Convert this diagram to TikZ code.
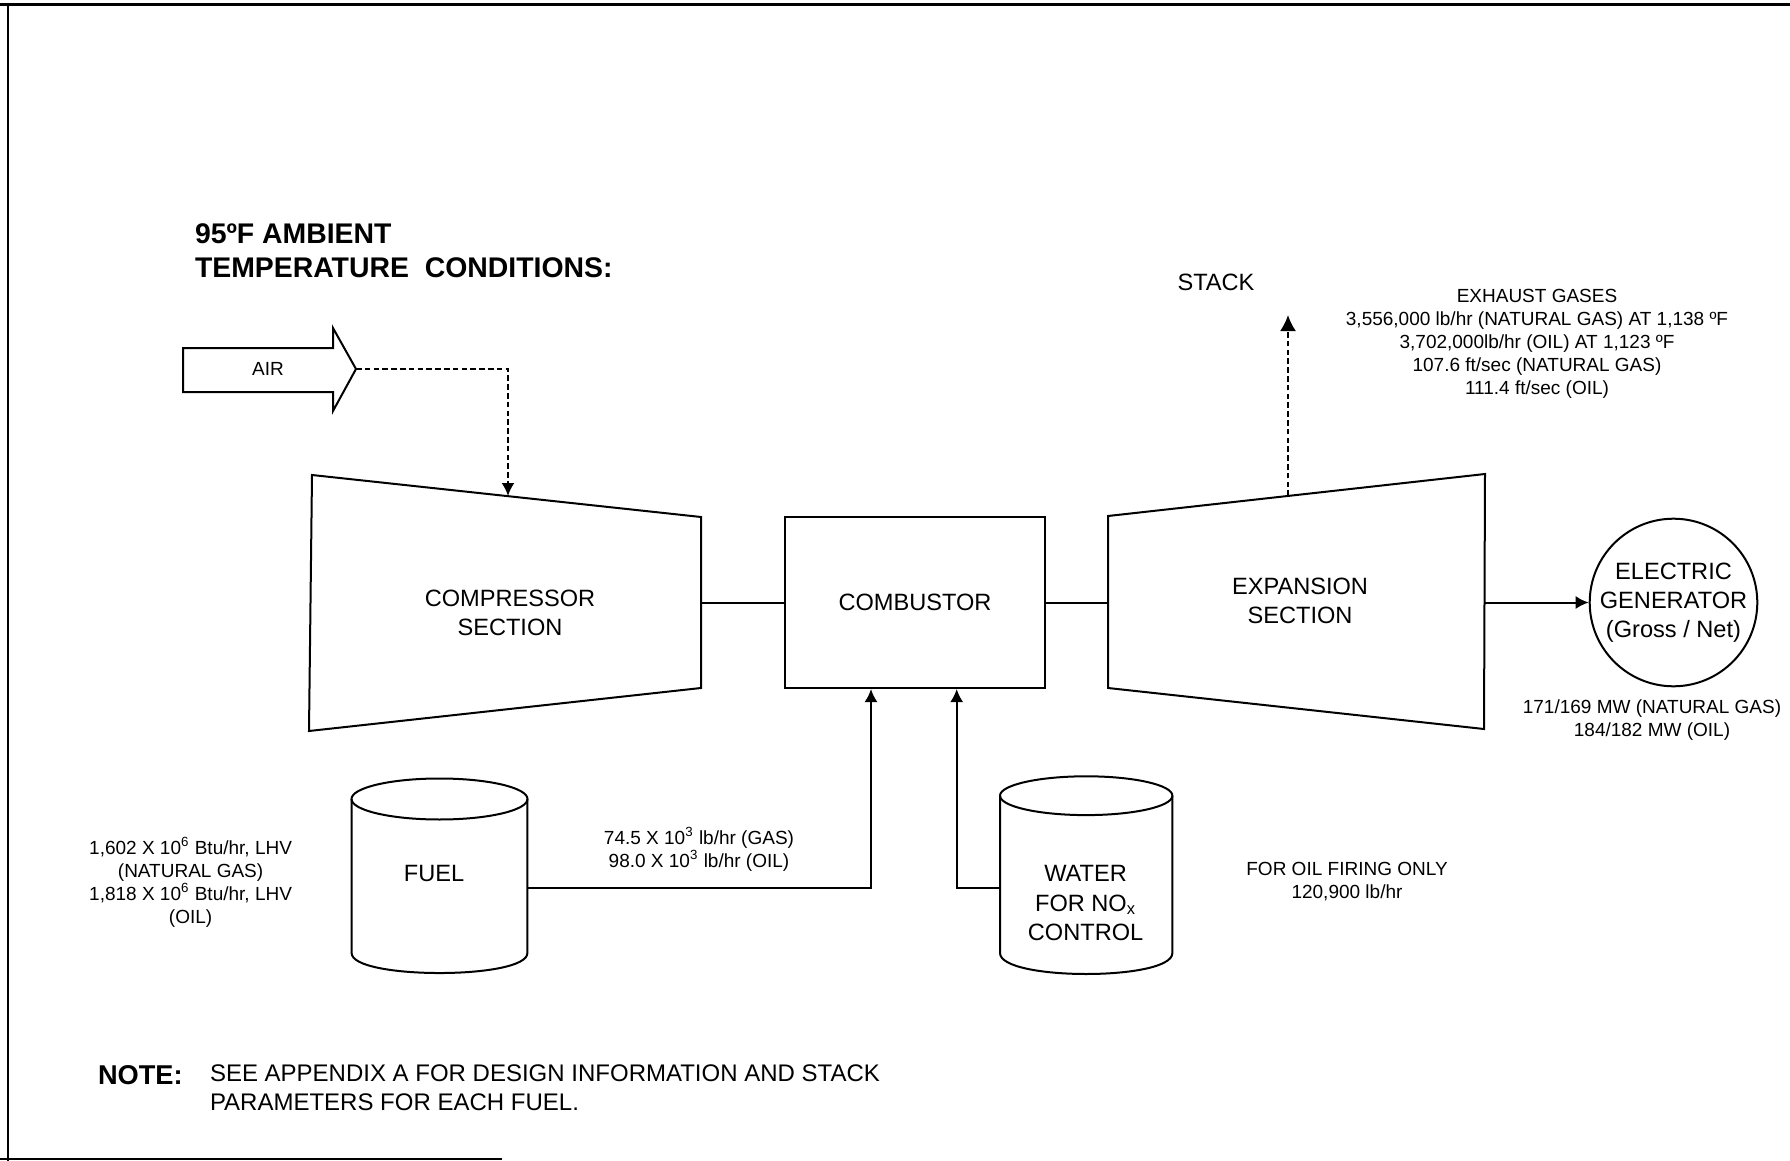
\documentclass[tikz,border=0pt]{standalone}
\usepackage{fontspec}
\setmainfont{Liberation Sans}
\usetikzlibrary{arrows.meta,calc}
\begin{document}
\begin{tikzpicture}[x=0.5pt,y=-0.5pt,
  line width=1pt, line join=miter,
  lbl/.style={inner sep=0pt, align=center, font=\fontsize{11.8}{14.6}\selectfont},
  sml/.style={inner sep=0pt, align=center, font=\fontsize{9.5}{11.5}\selectfont},
  flow/.style={-{Latex[length=6.5pt,width=6.5pt]}},
  dflow/.style={-{Latex[length=8pt,width=8pt]}, dash pattern=on 2.8pt off 1.6pt},
  ttl/.style={inner sep=0pt, anchor=west, align=left, font=\bfseries\fontsize{14.2}{17}\selectfont}]
\useasboundingbox (0,0) rectangle (1790,1161);
% frame
\draw[line width=1.5pt] (0,5) -- (1790,5);
\draw[line width=1.2pt] (8,4) -- (8,1161);
\draw[line width=1pt] (0,1159) -- (502,1159);

% title
\node[ttl] (title) at (194,251) {95ºF AMBIENT\\TEMPERATURE\ \ CONDITIONS:};

% AIR arrow
\draw (183,348) -- (333,348) -- (333,328) -- (356,369) -- (333,411) -- (333,392) -- (183,392) -- cycle;
\coordinate (airtip) at (356,369);
\node[sml] (air) at (268,369) {AIR};

% compressor
\coordinate (c1) at (312,475);
\coordinate (c2) at (701,517);
\coordinate (c3) at (701,688);
\coordinate (c4) at (309,731);
\draw (c1) -- (c2) -- (c3) -- (c4) -- cycle;
\node[lbl] (comp) at (510,613) {COMPRESSOR\\SECTION};
\coordinate (cmpin) at (508,496);
\coordinate (cmpout) at (701,602.5);
\draw[dflow, -{Latex[length=6.5pt,width=6.5pt]}] (airtip) -| (cmpin);

% combustor
\node[draw, lbl, minimum width=130pt, minimum height=85.5pt] (comb) at (915,602.5) {COMBUSTOR};
\draw (cmpout) -- (comb.west);

% expansion
\coordinate (e1) at (1108,516);
\coordinate (e2) at (1485,474);
\coordinate (e3) at (1484,729);
\coordinate (e4) at (1108,688);
\draw (e1) -- (e2) -- (e3) -- (e4) -- cycle;
\node[lbl] (exp) at (1300,600.5) {EXPANSION\\SECTION};
\coordinate (expin) at (1108,602.5);
\coordinate (expout) at (1484,602.5);
\draw (comb.east) -- (expin);

% stack
\coordinate (stk0) at (1288,496);
\coordinate (stk1) at (1288,315);
\draw[dflow] (stk0) -- (stk1);
\node[lbl] (stack) at (1216,282) {STACK};
\node[sml] (exhaust) at (1537,343.5) {EXHAUST GASES\\3,556,000 lb/hr (NATURAL GAS) AT 1,138 ºF\\3,702,000lb/hr (OIL) AT 1,123 ºF\\107.6 ft/sec (NATURAL GAS)\\111.4 ft/sec (OIL)};

% generator
\node[draw, circle, lbl, minimum size=83pt] (gen) at (1673.5,602.5) {ELECTRIC\\GENERATOR\\(Gross / Net)};
\draw[flow] (expout) -- (gen.west);
\node[sml] (genout) at (1652,720) {171/169 MW (NATURAL GAS)\\184/182 MW (OIL)};

% fuel tank
\draw (351.6,799) -- (351.6,953) .. controls (351.6,979.7) and (527.4,979.7) .. (527.4,953) -- (527.4,799);
\draw (439.5,799) ellipse [x radius=88, y radius=20.5];
\node[lbl] (fuel) at (434,873) {FUEL};
\coordinate (fuelout) at (527.4,888);
\coordinate (fx) at (871,0);
\draw[flow] (fuelout) -| (fx |- comb.south);
\node[sml] (fuelflow) at (699,849.5) {74.5 X 10\textsuperscript{3} lb/hr (GAS)\\98.0 X 10\textsuperscript{3} lb/hr (OIL)};
\node[sml] (heat) at (190.6,882) {1,602 X 10\textsuperscript{6} Btu/hr, LHV\\(NATURAL GAS)\\1,818 X 10\textsuperscript{6} Btu/hr, LHV\\(OIL)};

% water tank
\draw (1000,795.7) -- (1000,953) .. controls (1000,981) and (1172.4,981) .. (1172.4,953) -- (1172.4,795.7);
\draw (1086.2,795.7) ellipse [x radius=86.2, y radius=19.4];
\node[lbl] (water) at (1085.6,903) {WATER\\FOR NO\textsubscript{x}\\CONTROL};
\coordinate (watout) at (1000,888);
\coordinate (wx) at (956.7,0);
\draw[flow] (watout) -| (wx |- comb.south);
\node[sml] (oilonly) at (1347,882) {FOR OIL FIRING ONLY\\120,900 lb/hr};

% note
\node[inner sep=0pt, anchor=west, font=\bfseries\fontsize{13.6}{16}\selectfont] (notehd) at (97,1075) {NOTE:};
\node[inner sep=0pt, anchor=west, align=left, font=\fontsize{12}{14.3}\selectfont] (note) at (209,1088) {SEE APPENDIX A FOR DESIGN INFORMATION AND STACK\\PARAMETERS FOR EACH FUEL.};
\end{tikzpicture}
\end{document}
